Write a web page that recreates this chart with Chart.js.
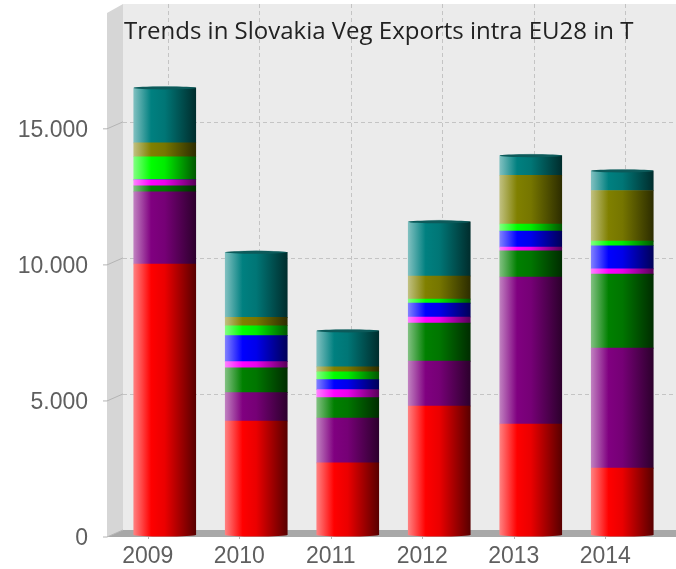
<!DOCTYPE html>
<html>
<head>
<meta charset="utf-8">
<style>html,body{margin:0;padding:0;background:#fff;overflow:hidden}canvas{display:block;filter:blur(0.4px)}</style>
<script src="https://cdn.jsdelivr.net/npm/chart.js@4"></script>
</head>
<body>
<canvas id="c" width="676" height="569"></canvas>
<script>
const categories = ['2009','2010','2011','2012','2013','2014'];
const titleText = 'Trends in Slovakia Veg Exports intra EU28 in T';
const yTickValues = [0,5000,10000,15000];
const yMax = 19000;
const seriesRed     = [9960,4190,2650,4740,4080,2460];
const seriesPurple  = [2650,1040,1650,1650,5400,4410];
const seriesGreen   = [220,910,750,1400,960,2720];
const seriesMagenta = [220,230,290,220,140,190];
const seriesBlue    = [0,960,370,510,590,850];
const seriesLime    = [850,360,290,150,260,170];
const seriesOlive   = [510,310,180,850,1790,1860];
const seriesTeal    = [2020,2390,1320,1990,720,720];
const colorRGB = {red:[255,0,0],purple:[128,0,128],green:[0,128,0],magenta:[255,0,255],blue:[0,0,255],lime:[0,255,0],olive:[128,128,0],teal:[0,128,128]};
const barWidth = 62;

function mix(c,t,f){return 'rgb('+c.map((v,i)=>Math.round(v+(t-v)*f)).join(',')+')';}
function cylGradient(c,x,hw,rgb){
  const g = c.createLinearGradient(x-hw,0,x+hw,0);
  g.addColorStop(0,mix(rgb,255,0.5));
  g.addColorStop(0.28,mix(rgb,0,0));
  g.addColorStop(0.5,mix(rgb,0,0.08));
  g.addColorStop(1,mix(rgb,0,0.65));
  return g;
}
function cylFill(rgb){
  return function(ctx){
    const chart = ctx.chart;
    const px = ctx.dataIndex===undefined ? NaN : chart.scales.x.getPixelForValue(ctx.dataIndex);
    if(!isFinite(px)) return mix(rgb,0,0);
    return cylGradient(chart.ctx, px, barWidth/2, rgb);
  };
}
function noPadding(s){s.paddingTop=0;s.paddingBottom=0;s.paddingLeft=0;s.paddingRight=0;}
const wallPlugin = {
  id:'walls',
  afterLayout(chart){
    chart.titleBlock.left = chart.chartArea.left+5;
  },
  beforeDraw(chart){
    const c = chart.ctx, a = chart.chartArea, W = chart.width;
    const fl=a.left-12, bl=a.left+4, bt=a.top-14, ft=a.top-5, bb=a.bottom-5, fb=a.bottom+2;
    c.save();
    c.fillStyle='#ebebeb'; c.fillRect(bl,bt,W-bl,bb-bt);
    c.fillStyle='#d6d6d6';
    c.beginPath();c.moveTo(fl,ft);c.lineTo(bl,bt);c.lineTo(bl,bb);c.lineTo(fl,fb);c.closePath();c.fill();
    c.fillStyle='#a8a8a8';
    c.beginPath();c.moveTo(fl,fb);c.lineTo(bl,bb);c.lineTo(W,bb);c.lineTo(W,fb);c.closePath();c.fill();
    const y=chart.scales.y, x=chart.scales.x;
    c.lineWidth=1; c.strokeStyle='#c4c4c4'; c.setLineDash([4,3]);
    y.ticks.forEach(t=>{
      if(t.value===0) return;
      const p=Math.round(y.getPixelForValue(t.value)-5)+0.5;
      c.beginPath();c.moveTo(bl,p);c.lineTo(W,p);c.stroke();
    });
    x.ticks.forEach((t,i)=>{
      const p=Math.round(x.getPixelForTick(i)+3)+0.5;
      c.beginPath();c.moveTo(p,bt);c.lineTo(p,bb);c.stroke();
    });
    c.setLineDash([]); c.strokeStyle='#b4b4b4';
    y.ticks.forEach(t=>{
      const p=y.getPixelForValue(t.value);
      c.beginPath();c.moveTo(fl-4,p+2);c.lineTo(fl,p+2);c.lineTo(bl,p-5);c.stroke();
    });
    x.ticks.forEach((t,i)=>{
      const p=Math.round(x.getPixelForTick(i)-17)+0.5;
      c.beginPath();c.moveTo(p,fb);c.lineTo(p,fb+2);c.stroke();
    });
    c.restore();
  },
  afterDatasetsDraw(chart){
    const c=chart.ctx, n=chart.data.datasets.length;
    const bottom=chart.getDatasetMeta(0).data, top=chart.getDatasetMeta(n-1).data;
    c.save();
    bottom.forEach(el=>{
      const hw=el.width/2;
      c.fillStyle=cylGradient(c,el.x,hw,colorRGB.red);
      c.beginPath();c.ellipse(el.x,el.base,hw,1.5,0,0,Math.PI);c.fill();
    });
    top.forEach(el=>{
      const hw=el.width/2;
      c.fillStyle='rgba(120,170,170,0.55)';
      c.beginPath();c.ellipse(el.x,el.y,hw-10,2,0,Math.PI,2*Math.PI);c.fill();
      c.fillStyle='#0c5a5a';
      c.beginPath();c.ellipse(el.x,el.y,hw,1.5,0,0,2*Math.PI);c.fill();
    });
    c.restore();
  }
};
function ds(label,data,key){return {label,data,backgroundColor:cylFill(colorRGB[key]),borderWidth:0,barThickness:barWidth,stack:'s'};}
new Chart(document.getElementById('c'),{
  type:'bar',
  data:{labels:categories,datasets:[
    ds('Red',seriesRed,'red'),ds('Purple',seriesPurple,'purple'),ds('Green',seriesGreen,'green'),
    ds('Magenta',seriesMagenta,'magenta'),ds('Blue',seriesBlue,'blue'),ds('Lime',seriesLime,'lime'),
    ds('Olive',seriesOlive,'olive'),ds('Teal',seriesTeal,'teal')
  ]},
  options:{
    responsive:false,animation:false,
    layout:{autoPadding:false,padding:{left:0,right:8,top:0,bottom:0}},
    plugins:{
      legend:{display:false},tooltip:{enabled:false},
      title:{display:true,text:titleText,color:'#222222',align:'start',fullSize:false,
        font:{family:'"Open Sans"',size:24,weight:'normal'},padding:{top:17.6,bottom:-28.4}}
    },
    scales:{
      x:{stacked:true,grid:{display:false,drawTicks:false},border:{display:false},
        afterFit(s){s.height=34;noPadding(s);},
        ticks:{color:'#5f5f5f',font:{family:'"Liberation Sans"',size:23},padding:8,labelOffset:-17,maxRotation:0,autoSkip:false}},
      y:{stacked:true,min:0,max:yMax,grid:{display:false,drawTicks:false},border:{display:false},
        afterFit(s){s.width=119;noPadding(s);},
        afterBuildTicks(s){s.ticks=yTickValues.map(value=>({value}));},
        ticks:{color:'#5f5f5f',font:{family:'"Liberation Sans"',size:23},padding:31,labelOffset:4,
          callback:v=>v===0?'0':v.toLocaleString('de-DE')}}
    }
  },
  plugins:[wallPlugin]
});
</script>
</body>
</html>
